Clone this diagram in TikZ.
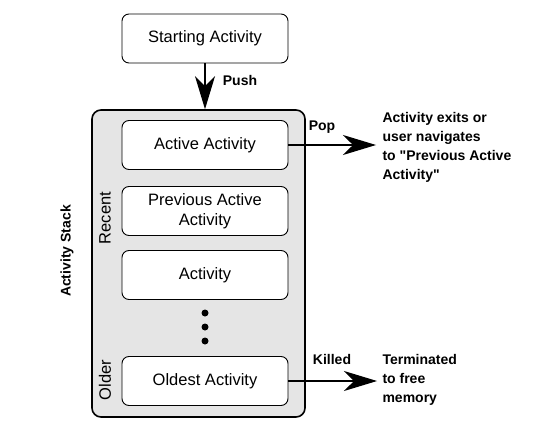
\documentclass[tikz,border=0pt]{standalone}
\usepackage{fontspec}
\setmainfont{Liberation Sans}[Ligatures=TeXOff]
\usetikzlibrary{arrows.meta, positioning}

\begin{document}
\begin{tikzpicture}[x=1pt, y=-1pt, font=\fontsize{16.5}{20}\selectfont,
        act/.style={draw, line width=0.9pt, rounded corners=7pt, fill=white, minimum width=166pt, minimum height=49pt, align=center},
        lbl/.style={font=\fontsize{14}{19}\selectfont\bfseries, align=left},
        bigarrow/.style={-{Stealth[length=33pt, width=20pt, inset=10pt]}, line width=1.2pt}]
        \useasboundingbox (0,0) rectangle (534,430);

        % stack container
        \node[draw, line width=1.6pt, rounded corners=9pt, fill=gray!20, minimum width=213pt, minimum height=307pt] (stack) at (198.5,263.5) {};

        \node[act] (start) at (205,38.5) {Starting Activity};
        \node[act] (active) at (205,145) {Active Activity};
        \node[act] (prev) at (205,211) {Previous Active\\Activity};
        \node[act] (activity) at (205,275) {Activity};
        \node[act] (oldest) at (205,381) {Oldest Activity};

        % dots
        \foreach \y in {313,327,341}
            \fill (205,\y) circle (3.5pt);

        \node[rotate=90] (recent) at (105,218) {Recent};
        \node[rotate=90] (older) at (105,380) {Older};
        \node[lbl, rotate=90] (stacklbl) at (67,251) {Activity Stack};

        % push
        \draw[bigarrow] (start.south) -- (start.south |- stack.north);
        \node[lbl] (push) at (240,80) {Push};

        % pop
        \coordinate (popend) at (376,145);
        \draw[bigarrow] (active.east) -- (popend);
        \node[lbl] (pop) at (322,127) {Pop};
        \node[lbl, anchor=west] (exits) at (379,147) {Activity exits or\\user navigates\\to "Previous Active\\Activity"};

        % killed
        \coordinate (killend) at (377,381);
        \draw[bigarrow] (oldest.east) -- (killend);
        \node[lbl] (killed) at (332,359) {Killed};
        \node[lbl, anchor=west] (term) at (379,380) {Terminated\\to free\\memory};
\end{tikzpicture}
\end{document}
